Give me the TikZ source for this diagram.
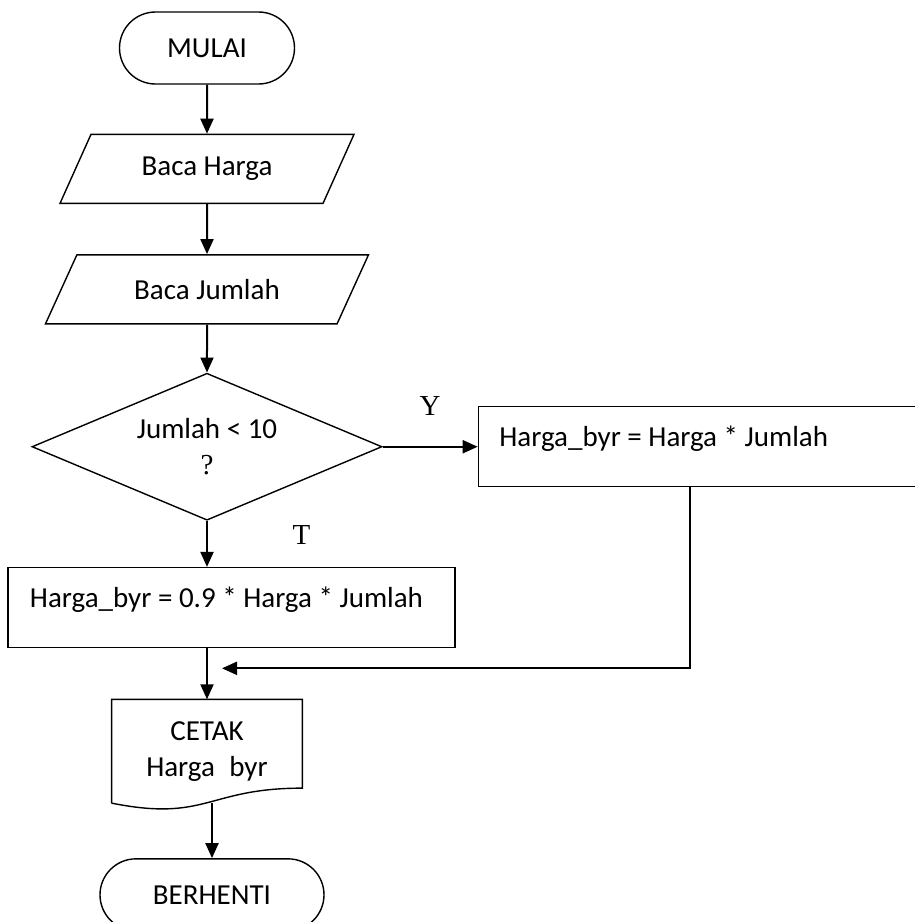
\documentclass[tikz,border=0pt]{standalone}
\usepackage{fontspec}
\setmainfont{Carlito}
\newfontfamily\labelfont{Liberation Serif}
\usetikzlibrary{shapes.geometric, arrows.meta, positioning, calc}

\begin{document}
\begin{tikzpicture}[
    x=0.5pt, y=-0.5pt,
    node distance=25pt,
    font=\fontsize{14.5}{18}\selectfont,
    term/.style={rectangle, rounded corners=18pt, draw=black, line width=0.7pt, minimum height=36pt, align=center},
    io/.style={trapezium, trapezium stretches body, draw=black, line width=0.7pt, minimum height=34.5pt, align=center},
    decision/.style={diamond, aspect=2.4, draw=black, line width=0.7pt, minimum width=175pt, minimum height=73.5pt, inner sep=0pt, align=center},
    process/.style={rectangle, draw=black, line width=0.7pt, minimum height=40pt, text height=11pt, text depth=11pt, align=flush left},
    arrow/.style={line width=1pt, ->, >={Triangle[length=7.5pt, width=6.5pt]}, draw=black},
    branch/.style={font=\labelfont\fontsize{14.5}{18}\selectfont}
]
    \useasboundingbox (0,0) rectangle (915,922);
    \clip (0,0) rectangle (915,922);

    % Nodes
    \node (start) [term, minimum width=87.5pt] at (207,48) {MULAI};
    \node (readp) [io, trapezium left angle=50, trapezium right angle=130, minimum width=147pt, below=24.5pt of start] {Baca Harga};
    \node (readq) [io, trapezium left angle=47, trapezium right angle=133, minimum width=161.5pt, below=of readp] {Baca Jumlah};
    \node (dec) [decision, below=24pt of readq] {Jumlah < 10\\{\labelfont ?}};
    \node (pay) [process, minimum width=224pt, text width=203pt, inner xsep=10.5pt, right=47.5pt of dec] {Harga\_byr = Harga * Jumlah};
    \node (disc) [process, minimum width=223.5pt, text width=201.5pt, inner xsep=11pt, below=23pt of dec, xshift=12.25pt] {Harga\_byr = 0.9 * Harga * Jumlah};
    \node (cetak) [minimum width=95pt, minimum height=51.5pt, align=center, below=25.5pt of disc, xshift=-12.25pt] {CETAK\\Harga\hphantom{\_}byr};
    \node (stop) [term, minimum width=112pt, below=27.5pt of cetak, xshift=2.5pt] {BERHENTI};

    % Document outline
    \draw [line width=0.7pt] (cetak.south west) -- (cetak.north west) -- (cetak.north east) -- ($(cetak.south east)+(0,7.5pt)$)
        .. controls ($(cetak.south)+(0,7.5pt)$) and ($(cetak.south)+(0,-9.5pt)$) .. (cetak.south west);

    % Flows
    \draw [arrow] (start) -- (readp);
    \draw [arrow] (readp) -- (readq);
    \draw [arrow] (readq) -- (dec);
    \draw [arrow] (dec) -- (pay) node[midway, above=12pt, branch] {Y};
    \draw [arrow] (dec) -- (dec |- disc.north) node[pos=0.3, right=39pt, branch] {T};
    \draw [arrow] (cetak.north |- disc.south) -- (cetak);
    \coordinate (join) at ($(cetak.north |- disc.south)+(7.5pt,-10pt)$);
    \draw [arrow] ($(pay.south)+(-6pt,0)$) |- (join);
    \draw [arrow] (stop.north |- cetak.south) -- (stop);

\end{tikzpicture}
\end{document}
